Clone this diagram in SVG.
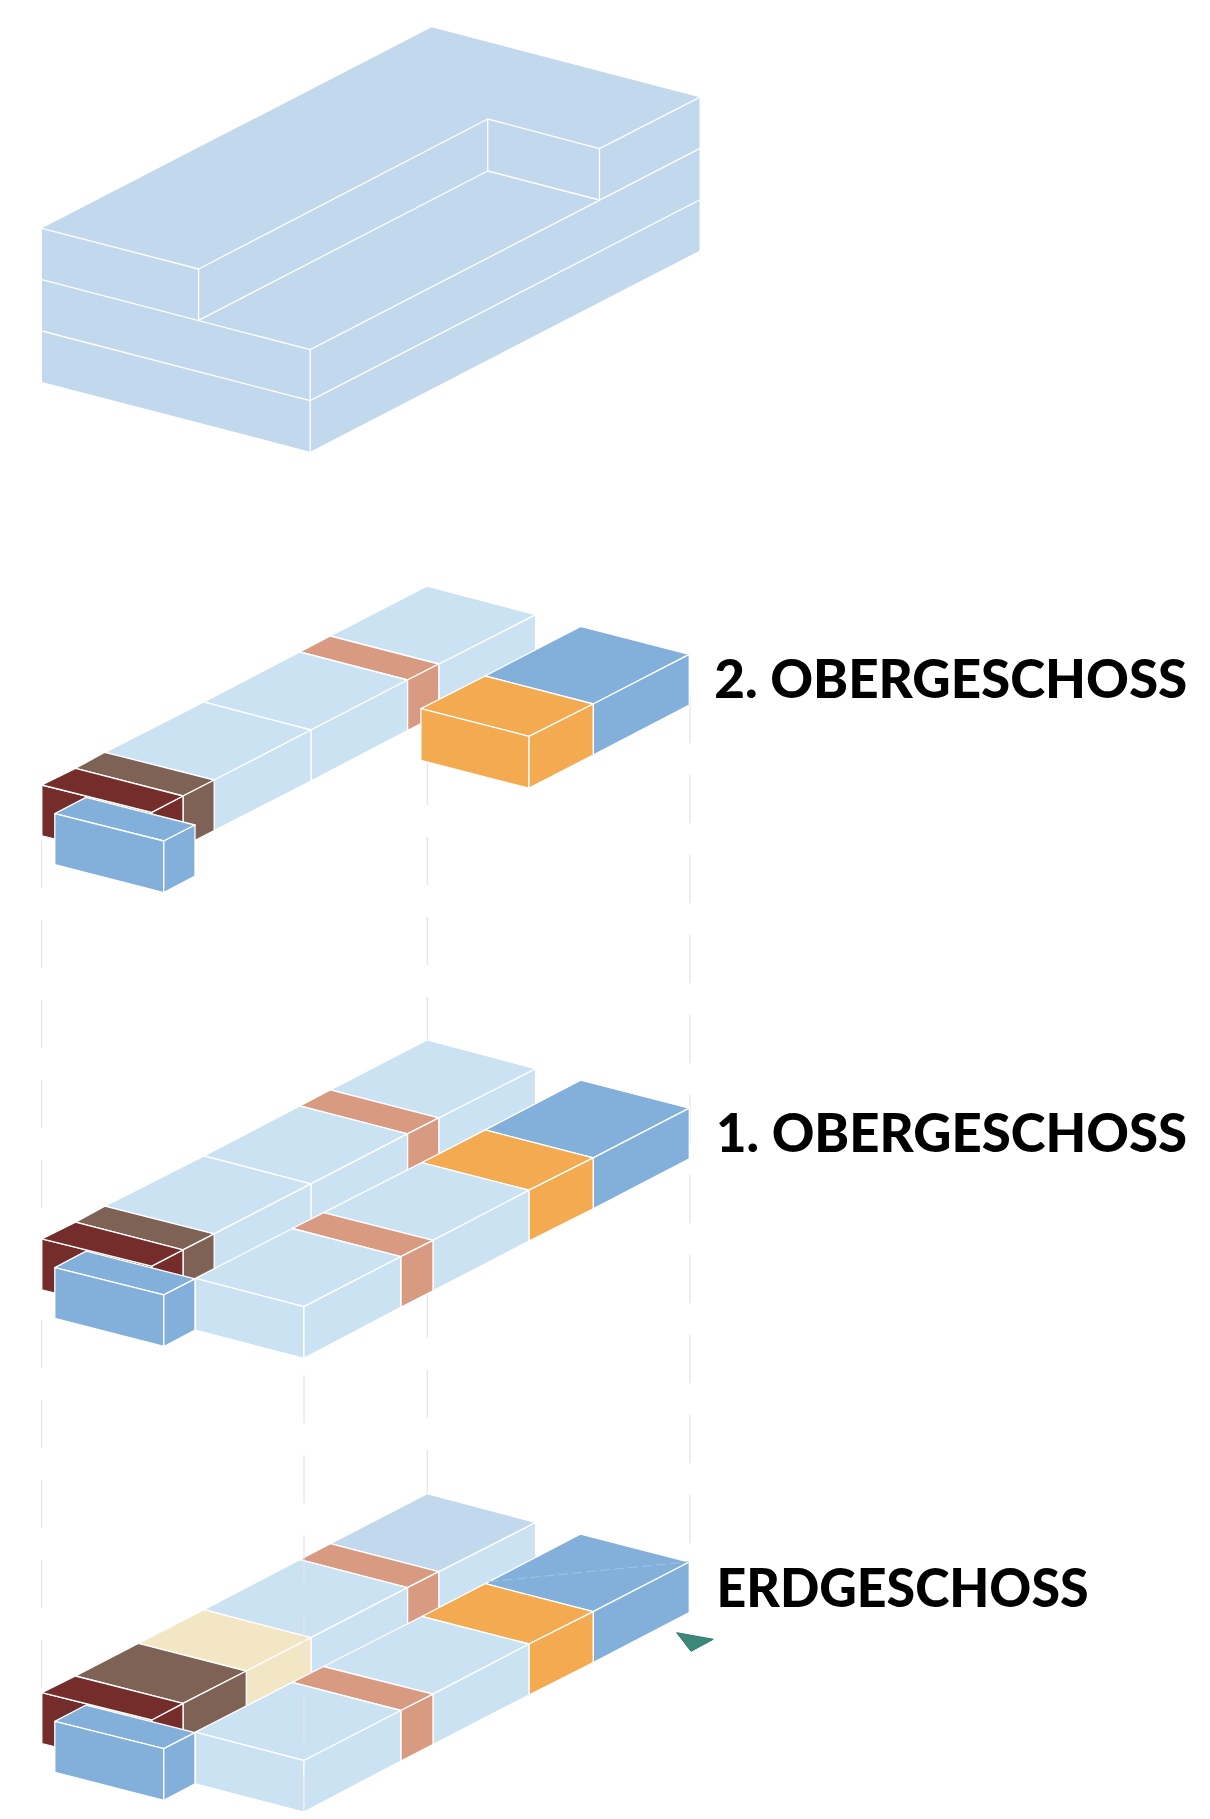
<svg xmlns="http://www.w3.org/2000/svg" width="1210" height="1819" viewBox="0 0 1210 1819">
<style>
polygon,path.e{stroke:#fff;stroke-width:1.3;stroke-linejoin:round}
.block{fill:#C2D8EC}.light{fill:#CAE2F1}.salmon{fill:#D99A82}.orange{fill:#F4AA50}.blue{fill:#82B0DA}.brown{fill:#7E6256}.maroon{fill:#742D2A}.cream{fill:#F3E6C5}
.dash{stroke:#E4E4E4;stroke-width:1.2;stroke-dasharray:48 32;fill:none}
.lbl{font-family:"Lato","Liberation Sans",sans-serif;font-weight:900;font-size:54px;fill:#000}
</style>
<g id="dashes-back">
<line class="dash" x1="41.5" y1="840" x2="41.5" y2="1688"/>
<line class="dash" x1="427.3" y1="757" x2="427.3" y2="1045"/>
<line class="dash" x1="427.3" y1="1290" x2="427.3" y2="1494"/>
<line class="dash" x1="690" y1="695" x2="690" y2="1543"/>
</g>
<g id="massing">
<path class="block" d="M431.6 27.3L699.5 97.3V250.7L310.2 451.7L41.9 382V228.3Z"/>
<g fill="none" stroke="#fff" stroke-width="1.3" stroke-linejoin="round">
<path d="M41.9 228.3L198.6 269L487.7 119L599.5 148.7L699.5 97.3"/>
<path d="M41.9 279.7L310.2 349.7L699.5 148.7"/>
<path d="M41.9 331L310.2 400.7L699.5 200"/>
<path d="M198.6 269V320.3L487.7 171L599.5 200V148.7M487.7 119V171M310.2 349.7V451.7"/>
</g>
</g>
<g id="og2">
<g id="og2-strip">
<polygon class="light" points="438.8,664 535.6,614.7 535.6,665.4 438.8,714.7"/>
<polygon class="light" points="427.1,586 535.6,614.7 438.8,664 330.3,636"/>
<polygon class="salmon" points="330.3,636 438.8,664 407.5,680 299.8,652"/>
<polygon class="salmon" points="438.8,664 407.5,680 407.5,730.7 438.8,714.7"/>
<polygon class="light" points="299.8,652 407.5,680 311,730 203.9,702"/>
<polygon class="light" points="311,730 407.5,680 407.5,730.7 311,781"/>
<polygon class="light" points="203.9,702 311,730 214.2,780 104.8,752.3"/>
<polygon class="light" points="214.2,780 311,730 311,781 214.2,830.7"/>
<polygon class="brown" points="104.8,752.3 214.2,780 183,796 75.5,768.3"/>
<polygon class="brown" points="214.2,780 183,796 183,846.7 214.2,830.7"/>
<polygon class="maroon" points="183,796 151.7,812.3 151.7,863 183,846.7"/>
<polygon class="maroon" points="41.8,785 151.7,812.3 151.7,863 41.8,836"/>
<polygon class="maroon" points="75.5,768.3 183,796 151.7,812.3 41.8,785"/>
</g>
<g id="og2-right">
<polygon class="blue" points="580.7,626.3 689.3,654.3 593.2,704 485.2,676"/>
<polygon class="blue" points="689.3,654.3 593.2,704 593.2,755 689.3,705"/>
<polygon class="orange" points="485.2,676 593.2,704 529,736.3 420.9,708.7"/>
<polygon class="orange" points="420.9,708.7 529,736.3 529,788.2 420.9,760.4"/>
<polygon class="orange" points="529,736.3 593.2,704 593.2,755 529,788.2"/>
</g>
<g id="og2-stair">
<polygon class="blue" points="86,797.3 195,825 163.8,841 54.8,813.7"/>
<polygon class="blue" points="54.8,813.7 163.8,841 163.8,892.6 54.8,864.6"/>
<polygon class="blue" points="195,825 163.8,841 163.8,892.6 195,876.2"/>
</g>
</g>
<g id="og1" transform="translate(0,453.9)">
<g id="og1-strip">
<polygon class="light" points="438.8,664 535.6,614.7 535.6,665.4 438.8,714.7"/>
<polygon class="light" points="427.1,586 535.6,614.7 438.8,664 330.3,636"/>
<polygon class="salmon" points="330.3,636 438.8,664 407.5,680 299.8,652"/>
<polygon class="salmon" points="438.8,664 407.5,680 407.5,730.7 438.8,714.7"/>
<polygon class="light" points="299.8,652 407.5,680 311,730 203.9,702"/>
<polygon class="light" points="311,730 407.5,680 407.5,730.7 311,781"/>
<polygon class="light" points="203.9,702 311,730 214.2,780 104.8,752.3"/>
<polygon class="light" points="214.2,780 311,730 311,781 214.2,830.7"/>
<polygon class="brown" points="104.8,752.3 214.2,780 183,796 75.5,768.3"/>
<polygon class="brown" points="214.2,780 183,796 183,846.7 214.2,830.7"/>
<polygon class="maroon" points="183,796 151.7,812.3 151.7,863 183,846.7"/>
<polygon class="maroon" points="41.8,785 151.7,812.3 151.7,863 41.8,836"/>
<polygon class="maroon" points="75.5,768.3 183,796 151.7,812.3 41.8,785"/>
</g>
<g id="og1-right">
<polygon class="blue" points="580.7,626.3 689.3,654.3 593.2,704 485.2,676"/>
<polygon class="blue" points="689.3,654.3 593.2,704 593.2,755 689.3,705"/>
<polygon class="orange" points="485.2,676 593.2,704 529,736.3 421.8,708.8"/>
<polygon class="orange" points="529,736.3 593.2,704 593.2,755 529,787.3"/>
<polygon class="light" points="421.8,708.8 529,736.3 433,786.4 323.6,758.8"/>
<polygon class="light" points="433,786.4 529,736.3 529,787.3 433,837"/>
<polygon class="salmon" points="323.6,758.8 433,786.4 400.8,802.8 292.2,774.6"/>
<polygon class="salmon" points="433,786.4 400.8,802.8 400.8,853.4 433,837"/>
<polygon class="light" points="292.2,774.6 400.8,802.8 303.9,852.8 195.4,824.4"/>
<polygon class="light" points="195.4,824.4 303.9,852.8 303.9,904.4 195.4,876.3"/>
<polygon class="light" points="303.9,852.8 400.8,802.8 400.8,853.4 303.9,904.4"/>
</g>
<g id="og1-stair">
<polygon class="blue" points="86,797.3 195,825 163.8,841 54.8,813.7"/>
<polygon class="blue" points="54.8,813.7 163.8,841 163.8,892.6 54.8,864.6"/>
<polygon class="blue" points="195,825 163.8,841 163.8,892.6 195,876.2"/>
</g>
</g>
<g id="eg" transform="translate(0,907.7)">
<g id="eg-strip">
<polygon class="light" points="438.8,664 535.6,614.7 535.6,665.4 438.8,714.7"/>
<polygon class="block" points="427.1,586 535.6,614.7 438.8,664 330.3,636"/>
<polygon class="salmon" points="330.3,636 438.8,664 407.5,680 299.8,652"/>
<polygon class="salmon" points="438.8,664 407.5,680 407.5,730.7 438.8,714.7"/>
<polygon class="light" points="299.8,652 407.5,680 311,730 203.9,702"/>
<polygon class="light" points="311,730 407.5,680 407.5,730.7 311,781"/>
<polygon class="cream" points="203.9,702 311,730 246.3,763.3 138.3,735.6"/>
<polygon class="cream" points="311,730 246.3,763.3 246.3,814 311,781"/>
<polygon class="brown" points="138.3,735.6 246.3,763.3 183,795.6 75.5,768.3"/>
<polygon class="brown" points="246.3,763.3 183,795.6 183,846.3 246.3,814"/>
<polygon class="maroon" points="183,796 151.7,812.3 151.7,863 183,846.7"/>
<polygon class="maroon" points="41.8,785 151.7,812.3 151.7,863 41.8,836"/>
<polygon class="maroon" points="75.5,768.3 183,795.6 151.7,812.3 41.8,785"/>
</g>
<g id="eg-right">
<polygon class="blue" points="580.7,626.3 689.3,654.3 593.2,704 485.2,676"/>
<line x1="488.8" y1="674" x2="688.8" y2="654" stroke="#A3C4E3" stroke-width="1" stroke-dasharray="10 4"/>
<polygon class="blue" points="689.3,654.3 593.2,704 593.2,755 689.3,705"/>
<polygon class="orange" points="485.2,676 593.2,704 529,736.3 421.8,708.8"/>
<polygon class="orange" points="529,736.3 593.2,704 593.2,755 529,787.3"/>
<polygon class="light" points="421.8,708.8 529,736.3 433,786.4 323.6,758.8"/>
<polygon class="light" points="433,786.4 529,736.3 529,787.3 433,837"/>
<polygon class="salmon" points="323.6,758.8 433,786.4 400.8,802.8 292.2,774.6"/>
<polygon class="salmon" points="433,786.4 400.8,802.8 400.8,853.4 433,837"/>
<polygon class="light" points="292.2,774.6 400.8,802.8 303.9,852.8 195.4,824.4"/>
<polygon class="light" points="195.4,824.4 303.9,852.8 303.9,904.4 195.4,876.3"/>
<polygon class="light" points="303.9,852.8 400.8,802.8 400.8,853.4 303.9,904.4"/>
</g>
<g id="eg-stair">
<polygon class="blue" points="86,797.3 195,825 163.8,841 54.8,813.7"/>
<polygon class="blue" points="54.8,813.7 163.8,841 163.8,892.6 54.8,864.6"/>
<polygon class="blue" points="195,825 163.8,841 163.8,892.6 195,876.2"/>
</g>
</g>
<g id="dashes-front">
<line class="dash" x1="304" y1="1375" x2="304" y2="1811"/>
</g>
<g id="north-marker">
<polygon points="676.7,1632.7 713.3,1639.3 691,1651.3" style="fill:#3B8878;stroke:#27796A;stroke-width:1"/>
</g>
<g id="labels">
<text class="lbl" x="714.3" y="698.3" textLength="473" lengthAdjust="spacingAndGlyphs">2. OBERGESCHOSS</text>
<text class="lbl" x="716" y="1152.2" textLength="471" lengthAdjust="spacingAndGlyphs">1. OBERGESCHOSS</text>
<text class="lbl" x="716.5" y="1606.5" textLength="372" lengthAdjust="spacingAndGlyphs">ERDGESCHOSS</text>
</g>
</svg>
